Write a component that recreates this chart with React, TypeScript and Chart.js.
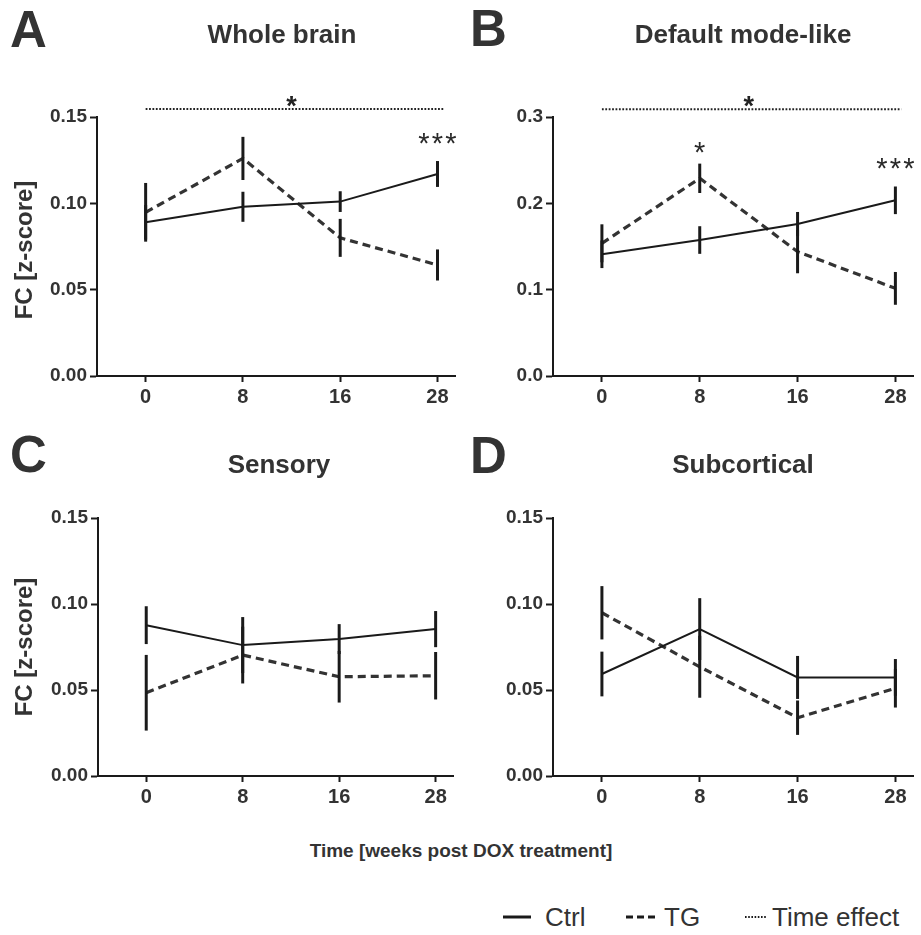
import React, { useEffect, useRef } from "react";
import { Chart, registerables } from "chart.js";

Chart.register(...registerables);

const FONT = "'Liberation Sans', Arial, Helvetica, sans-serif";
const TEXT = "#333333";
const INK = "#1a1a1a";

// x categories (weeks post DOX treatment)
const weeks = ["0", "8", "16", "28"];

// Panel A – Whole brain
const ctrlA = [0.089, 0.098, 0.101, 0.117];
const ctrlAErr = [0.01, 0.0087, 0.006, 0.0075];
const tgA = [0.0948, 0.126, 0.08, 0.0643];
const tgAErr = [0.017, 0.0125, 0.011, 0.009];
const timeEffectA = 0.1546;
const starsA = [{ x: 3, y: 0.1378, text: "***" }];

// Panel B – Default mode-like
const ctrlB = [0.141, 0.1575, 0.176, 0.2035];
const ctrlBErr = [0.016, 0.016, 0.014, 0.016];
const tgB = [0.1537, 0.229, 0.144, 0.1015];
const tgBErr = [0.022, 0.017, 0.025, 0.019];
const timeEffectB = 0.309;
const starsB = [
  { x: 1, y: 0.265, text: "*" },
  { x: 3, y: 0.2467, text: "***" },
];

// Panel C – Sensory
const ctrlC = [0.0877, 0.0761, 0.0796, 0.0854];
const ctrlCErr = [0.011, 0.0163, 0.0087, 0.0105];
const tgC = [0.0484, 0.0703, 0.0577, 0.0583];
const tgCErr = [0.022, 0.0165, 0.015, 0.0138];

// Panel D – Subcortical
const ctrlD = [0.0593, 0.0854, 0.0573, 0.0573];
const ctrlDErr = [0.013, 0.018, 0.0125, 0.0107];
const tgD = [0.0949, 0.0635, 0.0339, 0.051];
const tgDErr = [0.0155, 0.018, 0.01, 0.0112];

// y-axis ticks
const yTicksSmall = [0, 0.05, 0.1, 0.15];
const yTicksLarge = [0, 0.1, 0.2, 0.3];

type Star = { x: number; y: number; text: string };
type PanelSpec = {
  ctrl: number[];
  ctrlErr: number[];
  tg: number[];
  tgErr: number[];
  yTicks: number[];
  decimals: number;
  timeEffect?: number;
  stars?: Star[];
  width: number;
  height: number;
  area: { left: number; right: number; top: number; bottom: number };
};

function drawCenteredStars(ctx: any, text: string, cx: number, cy: number, font: string, gap: number) {
  ctx.font = font;
  ctx.textAlign = "center";
  ctx.textBaseline = "alphabetic";
  const m = ctx.measureText("*");
  const asc = m.actualBoundingBoxAscent;
  const desc = m.actualBoundingBoxDescent;
  const base = cy + (asc - desc) / 2;
  const n = text.length;
  for (let i = 0; i < n; i++) {
    const px = cx + (i - (n - 1) / 2) * gap;
    ctx.fillText("*", px, base);
  }
}

const annotPlugin = {
  id: "annot",
  afterDatasetsDraw(chart: any, _args: any, opts: any) {
    const { ctx } = chart;
    const x = chart.scales.x;
    const y = chart.scales.y;
    ctx.save();
    // error bars
    ctx.strokeStyle = INK;
    ctx.lineWidth = 3;
    ctx.lineCap = "butt";
    ctx.setLineDash([]);
    (opts.errors || []).forEach((errArr: number[], di: number) => {
      const ds = chart.data.datasets[di];
      ds.data.forEach((p: any, i: number) => {
        const e = errArr[i];
        const px = x.getPixelForValue(p.x);
        ctx.beginPath();
        ctx.moveTo(px, y.getPixelForValue(p.y - e));
        ctx.lineTo(px, y.getPixelForValue(p.y + e));
        ctx.stroke();
      });
    });
    // time effect dotted line with star
    if (opts.timeEffect != null) {
      const py = y.getPixelForValue(opts.timeEffect);
      ctx.lineWidth = 2;
      ctx.strokeStyle = "#222";
      ctx.setLineDash([1.8, 1.6]);
      ctx.beginPath();
      ctx.moveTo(x.getPixelForValue(0), py);
      ctx.lineTo(x.getPixelForValue(3.06), py);
      ctx.stroke();
      ctx.setLineDash([]);
      ctx.fillStyle = "#222";
      drawCenteredStars(ctx, "*", x.getPixelForValue(1.5), py - 8, `bold 27px ${FONT}`, 0);
    }
    // significance stars
    ctx.fillStyle = "#2a2a2a";
    (opts.stars || []).forEach((s: Star) => {
      drawCenteredStars(ctx, s.text, x.getPixelForValue(s.x), y.getPixelForValue(s.y), `29px ${FONT}`, 13.5);
    });
    ctx.restore();
  },
};

function Panel({ spec, left, top }: { spec: PanelSpec; left: number; top: number }) {
  const ref = useRef<HTMLCanvasElement | null>(null);
  useEffect(() => {
    if (!ref.current) return;
    const a = spec.area;
    const toPts = (arr: number[]) => arr.map((v, i) => ({ x: i, y: v }));
    const chart = new Chart(ref.current, {
      type: "line",
      data: {
        datasets: [
          {
            label: "Ctrl",
            data: toPts(spec.ctrl),
            borderColor: INK,
            borderWidth: 2,
            pointRadius: 0,
            tension: 0,
            fill: false,
          },
          {
            label: "TG",
            data: toPts(spec.tg),
            borderColor: "#333",
            borderWidth: 3.2,
            borderDash: [8, 5],
            pointRadius: 0,
            tension: 0,
            fill: false,
          },
        ],
      },
      options: {
        animation: false,
        responsive: false,
        maintainAspectRatio: false,
        events: [],
        layout: {
          padding: { left: 0, right: spec.width - a.right, top: a.top, bottom: 0 },
        },
        plugins: {
          legend: { display: false },
          tooltip: { enabled: false },
          title: { display: false },
          annot: {
            errors: [spec.ctrlErr, spec.tgErr],
            timeEffect: spec.timeEffect,
            stars: spec.stars,
          },
        } as any,
        scales: {
          x: {
            type: "linear",
            min: -0.5,
            max: 3.18,
            afterFit: (s: any) => {
              s.height = spec.height - a.bottom;
            },
            afterBuildTicks: (s: any) => {
              s.ticks = weeks.map((_, i) => ({ value: i }));
            },
            ticks: {
              callback: (v: any) => weeks[v as number],
              color: TEXT,
              font: { family: FONT, size: 20, weight: "bold" },
              padding: 3,
              maxRotation: 0,
              autoSkip: false,
            },
            grid: {
              drawOnChartArea: false,
              drawTicks: true,
              tickLength: 6,
              tickWidth: 2,
              color: INK,
            },
            border: { display: true, color: INK, width: 2 },
          },
          y: {
            type: "linear",
            min: spec.yTicks[0],
            max: spec.yTicks[spec.yTicks.length - 1],
            afterFit: (s: any) => {
              s.width = a.left;
            },
            afterBuildTicks: (s: any) => {
              s.ticks = spec.yTicks.map((v) => ({ value: v }));
            },
            ticks: {
              callback: (v: any) => Number(v).toFixed(spec.decimals),
              color: TEXT,
              font: { family: FONT, size: 19, weight: "bold" },
              padding: 3,
            },
            grid: {
              drawOnChartArea: false,
              drawTicks: true,
              tickLength: 7,
              tickWidth: 2,
              color: INK,
            },
            border: { display: true, color: INK, width: 2 },
          },
        },
      },
      plugins: [annotPlugin as any],
    });
    return () => chart.destroy();
  }, [spec]);
  return (
    <canvas
      ref={ref}
      width={spec.width}
      height={spec.height}
      style={{ position: "absolute", left, top, width: spec.width, height: spec.height }}
    />
  );
}

const specA: PanelSpec = {
  ctrl: ctrlA, ctrlErr: ctrlAErr, tg: tgA, tgErr: tgAErr,
  yTicks: yTicksSmall, decimals: 2, timeEffect: timeEffectA, stars: starsA,
  width: 460, height: 420, area: { left: 97, right: 455, top: 117, bottom: 376 },
};
const specB: PanelSpec = {
  ctrl: ctrlB, ctrlErr: ctrlBErr, tg: tgB, tgErr: tgBErr,
  yTicks: yTicksLarge, decimals: 1, timeEffect: timeEffectB, stars: starsB,
  width: 461, height: 420, area: { left: 93, right: 453, top: 117, bottom: 376 },
};
const specC: PanelSpec = {
  ctrl: ctrlC, ctrlErr: ctrlCErr, tg: tgC, tgErr: tgCErr,
  yTicks: yTicksSmall, decimals: 2,
  width: 460, height: 400, area: { left: 98, right: 453, top: 98, bottom: 356 },
};
const specD: PanelSpec = {
  ctrl: ctrlD, ctrlErr: ctrlDErr, tg: tgD, tgErr: tgDErr,
  yTicks: yTicksSmall, decimals: 2,
  width: 461, height: 400, area: { left: 93, right: 453, top: 98, bottom: 356 },
};

function Label({ text, cx, baseline, size, weight = "bold", left }: any) {
  // line-height = size; baseline ≈ top + 0.8465*size for Arial metrics
  const top = baseline - 0.8465 * size;
  const style: any = {
    position: "absolute",
    top,
    fontFamily: FONT,
    fontSize: size,
    lineHeight: `${size}px`,
    fontWeight: weight,
    color: TEXT,
    whiteSpace: "nowrap",
  };
  if (left != null) {
    style.left = left;
  } else {
    style.left = cx - 300;
    style.width = 600;
    style.textAlign = "center";
  }
  return <div style={style}>{text}</div>;
}

function YTitle({ cx, cy }: { cx: number; cy: number }) {
  return (
    <div
      style={{
        position: "absolute",
        left: cx - 100,
        top: cy - 15,
        width: 200,
        height: 30,
        lineHeight: "30px",
        textAlign: "center",
        fontFamily: FONT,
        fontSize: 24,
        fontWeight: "bold",
        color: TEXT,
        transform: "rotate(-90deg)",
        whiteSpace: "nowrap",
      }}
    >
      FC [z-score]
    </div>
  );
}

function LegendLine({ left, width, dash, thick }: any) {
  return (
    <svg style={{ position: "absolute", left, top: 912, overflow: "visible" }} width={width} height={10}>
      <line x1={0} y1={5} x2={width} y2={5} stroke={INK} strokeWidth={thick} strokeDasharray={dash} />
    </svg>
  );
}

export default function App() {
  return (
    <div
      style={{
        position: "absolute",
        left: 0,
        top: 0,
        width: 921,
        height: 935,
        background: "#fff",
        overflow: "hidden",
      }}
    >
      <Panel spec={specA} left={0} top={0} />
      <Panel spec={specB} left={460} top={0} />
      <Panel spec={specC} left={0} top={420} />
      <Panel spec={specD} left={460} top={420} />

      <Label text="A" left={10} baseline={47} size={51} />
      <Label text="B" left={470} baseline={46} size={51} />
      <Label text="C" left={10} baseline={472} size={51} />
      <Label text="D" left={470} baseline={473} size={51} />

      <Label text="Whole brain" cx={282} baseline={43} size={26} />
      <Label text="Default mode-like" cx={743} baseline={43} size={26} />
      <Label text="Sensory" cx={279} baseline={473} size={26} />
      <Label text="Subcortical" cx={743} baseline={473} size={26} />

      <YTitle cx={24} cy={250} />
      <YTitle cx={24} cy={647} />

      <Label text="Time [weeks post DOX treatment]" cx={461} baseline={857} size={19} />

      <LegendLine left={503} width={28} dash="none" thick={3} />
      <Label text="Ctrl" left={545} baseline={926} size={26} weight="normal" />
      <LegendLine left={626} width={33} dash="7,4" thick={3} />
      <Label text="TG" left={664} baseline={926} size={26} weight="normal" />
      <LegendLine left={745} width={21} dash="1.6,1.6" thick={2} />
      <Label text="Time effect" left={772} baseline={926} size={26} weight="normal" />
    </div>
  );
}
